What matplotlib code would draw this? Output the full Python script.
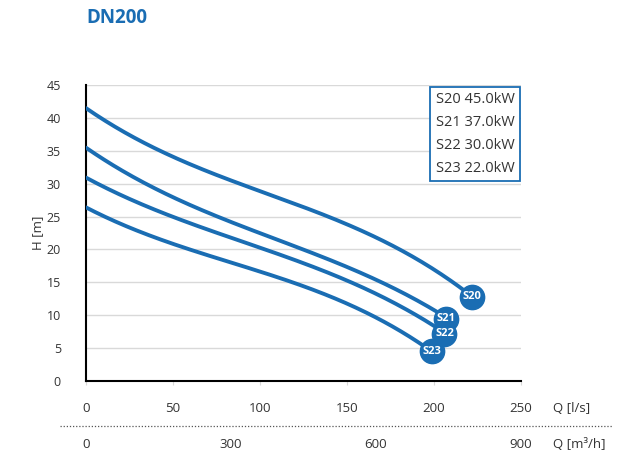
import matplotlib.pyplot as plt
import numpy as np

plt.rcParams['font.family'] = ['Open Sans', 'DejaVu Sans']

names = ['S20', 'S21', 'S22', 'S23']
powers = ['45.0kW', '37.0kW', '30.0kW', '22.0kW']
q_s20 = [0, 25, 50, 100, 150, 200, 222]
h_s20 = [41.5, 37.4, 34.0, 29.0, 23.7, 17.0, 12.8]
q_s21 = [0, 25, 50, 100, 150, 200, 207]
h_s21 = [35.5, 31.3, 27.9, 22.6, 17.2, 11.0, 9.5]
q_s22 = [0, 25, 50, 100, 150, 200, 206]
h_s22 = [31.0, 27.6, 24.8, 20.6, 15.0, 8.6, 7.2]
q_s23 = [0, 25, 50, 100, 150, 199]
h_s23 = [26.5, 23.2, 20.7, 17.0, 11.5, 4.5]
xticks_ls = [0, 50, 100, 150, 200, 250]
xticks_m3h = [0, 300, 600, 900]

blue = '#1a6db3'
txt = '#333333'

fig = plt.figure(figsize=(6.24, 4.57), dpi=100)
ax = fig.add_axes([0.1378, 0.1663, 0.6972, 0.6477])

curves = [(q_s20, h_s20), (q_s21, h_s21), (q_s22, h_s22), (q_s23, h_s23)]
for (q, h), name in zip(curves, names):
    coef = np.polyfit(q, h, 3)
    qq = np.linspace(q[0], q[-1], 200)
    ax.plot(qq, np.polyval(coef, qq), color=blue, lw=2.8, solid_capstyle='round', zorder=3)
    ax.plot(q[-1], h[-1], 'o', ms=17.5, color=blue, zorder=4)
    ax.text(q[-1], h[-1], name, color='white', fontsize=8, fontweight='bold',
            ha='center', va='center', zorder=5)

ax.set_xlim(0, 250)
ax.set_ylim(0, 45)
ax.set_yticks(range(0, 46, 5))
ax.set_xticks(xticks_ls)
ax.grid(axis='y', color='#d9d9d9', lw=1)
ax.set_axisbelow(True)
for s in ['top', 'right']:
    ax.spines[s].set_visible(False)
ax.spines['left'].set_linewidth(1.5)
ax.spines['bottom'].set_linewidth(1.5)
ax.tick_params(axis='y', length=0, pad=18, labelsize=9, labelcolor=txt)
ax.tick_params(axis='x', length=3, color='#d9d9d9', pad=12, labelsize=9.5, labelcolor=txt)
ax.set_ylabel('H [m]', fontsize=9.5, color=txt, labelpad=2)

# legend box
leg = '\n'.join(n + ' ' + p for n, p in zip(names, powers))
ax.text(0.985, 0.975, leg, transform=ax.transAxes, ha='right', va='top',
        fontsize=10.5, color=txt, linespacing=1.7,
        bbox=dict(boxstyle='square,pad=0.4', fc='white', ec=blue, lw=1.3), zorder=6)

fig.text(553 / 624, 1 - 408 / 457, 'Q [l/s]', fontsize=9.5, color=txt, va='center')
fig.add_artist(plt.Line2D([60 / 624, 612 / 624], [1 - 426 / 457] * 2,
                          color='#555555', lw=0.9, ls=(0, (1, 1.5))))
for v in xticks_m3h:
    xp = 86 + v / 3.6 * 1.74
    fig.text(xp / 624, 1 - 445 / 457, str(v), fontsize=9.5, color=txt, ha='center', va='center')
fig.text(553 / 624, 1 - 445 / 457, 'Q [m³/h]', fontsize=9.5, color=txt, va='center')

fig.text(86 / 624, 1 - 18 / 457, 'DN200', fontsize=13.5, fontweight='bold', color=blue,
         va='center')

fig.savefig('out.png', dpi=100)
